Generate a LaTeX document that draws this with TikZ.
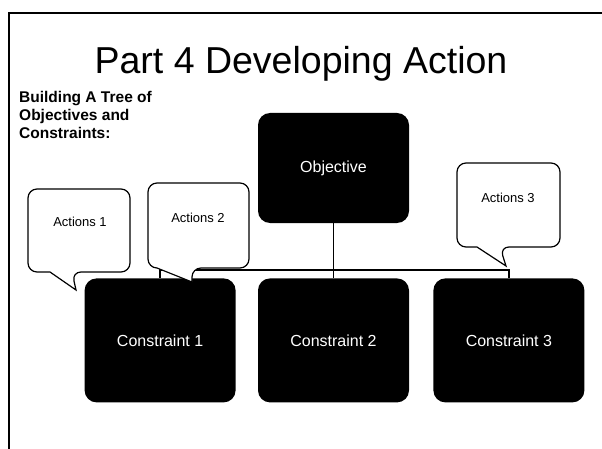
\documentclass[tikz,border=0pt]{standalone}
\usepackage{fontspec}
\setmainfont{Liberation Sans}
\usetikzlibrary{positioning,calc}

% speech balloon outline: left, top, right, bottom, tail base 1, tail base 2, tip
\newcommand\actbubble[7]{\draw[bubbleline] (#5,#4) [rounded corners=9pt] -- (#1,#4) -- (#1,#2) -- (#3,#2) -- (#3,#4) -- (#6,#4) [sharp corners] -- (#7) -- cycle;}

\begin{document}
\begin{tikzpicture}[x=1pt,y=1pt,node distance=23pt,
  box/.style={fill=black,text=white,rounded corners=12pt,minimum width=151pt,minimum height=124pt,font=\fontsize{16}{18}\selectfont},
  bubbleline/.style={draw=black,fill=white,line width=1.2pt},
  bubbletext/.style={font=\fontsize{13}{15}\selectfont,inner sep=1pt},
  tie/.style={draw=black,line width=1.5pt}]
\useasboundingbox (0,0) rectangle (602,-449);
\draw[line width=2pt] (9,-449) -- (9,-13) -- (602,-13);
\node (title) at (301,-64) {\fontsize{37.5}{40}\selectfont Part 4 Developing Action};
\node[anchor=north west,align=left,inner sep=0pt,font=\bfseries\fontsize{15.5}{18}\selectfont] (intro) at (19,-91) {Building A Tree of\\Objectives and\\Constraints:};
\node[box,minimum height=110pt] (obj) at (333.5,-168) {Objective};
\node[box,below=55pt of obj] (c2) {Constraint 2};
\node[box,left=22pt of c2] (c1) {Constraint 1};
\node[box,right=24pt of c2] (c3) {Constraint 3};
\draw[tie] (obj.south) -- ++(0,-47) coordinate (bus) -| (c1.north);
\draw[tie] (bus) -| (c3.north);
\draw[tie] (bus) -- (c2.north);
% balloons
\coordinate (tip1) at (76,-290);
\coordinate (tip2) at (192,-282);
\coordinate (tip3) at (506,-266);
\actbubble{28}{-189}{130}{-272}{50}{72}{tip1}
\actbubble{148}{-183}{249}{-268}{157}{192}{tip2}
\actbubble{457}{-163}{560}{-247}{477}{500}{tip3}
\node[bubbletext] (act1) at (80,-222) {Actions 1};
\node[bubbletext] (act2) at (198,-218) {Actions 2};
\node[bubbletext] (act3) at (508,-198) {Actions 3};
\end{tikzpicture}
\end{document}
